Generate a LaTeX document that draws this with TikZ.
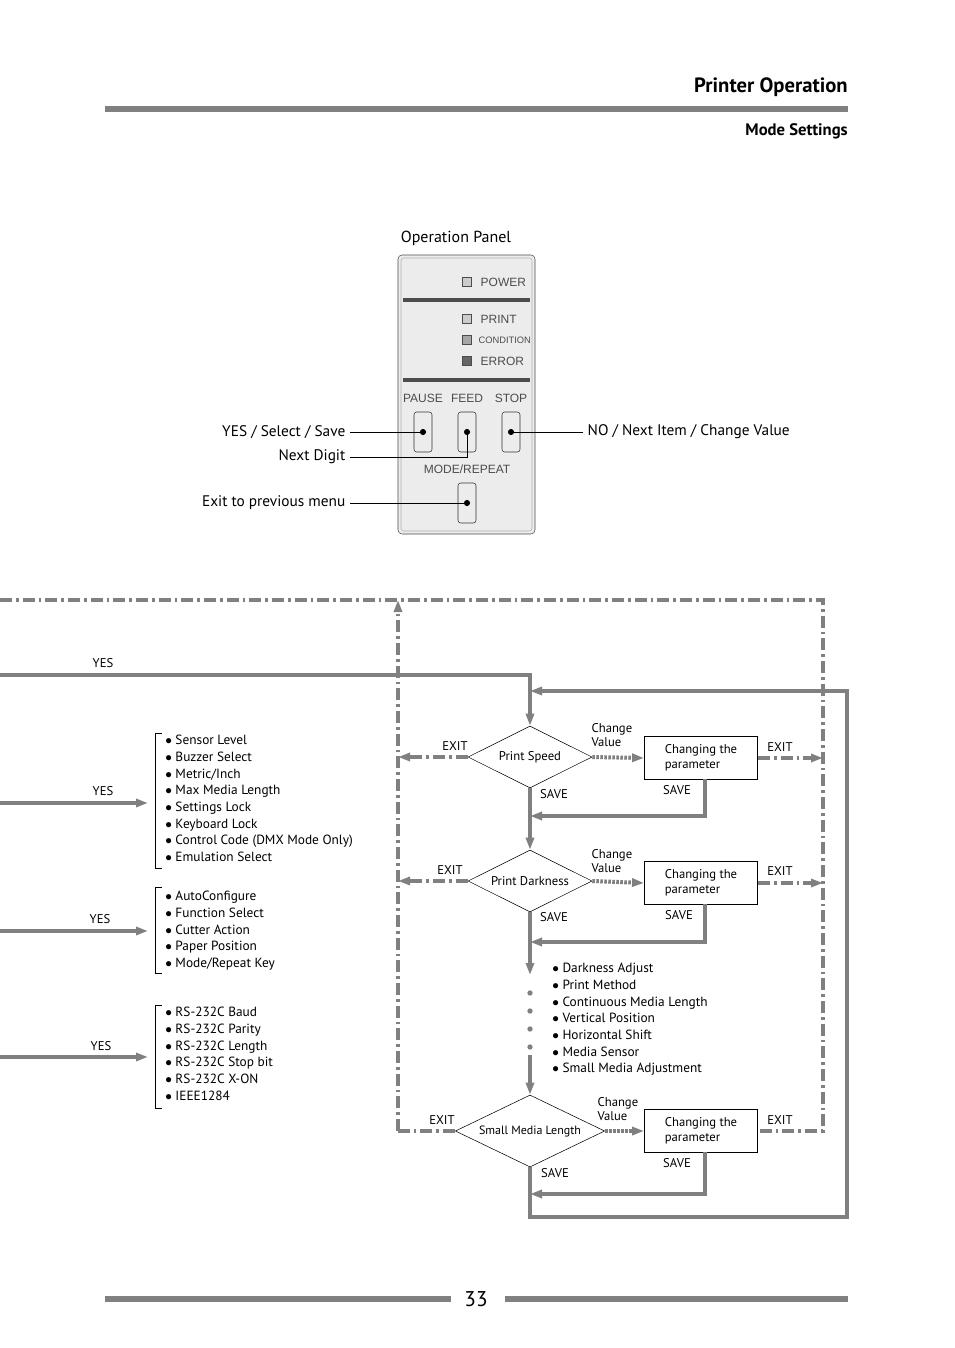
\documentclass[tikz,border=0pt]{standalone}
\usepackage{fontspec}
\setmainfont{PT Sans}
\newfontfamily\panelfont{Liberation Sans}
\usetikzlibrary{shapes.geometric,arrows.meta,positioning}
\definecolor{flowgray}{RGB}{128,128,128}
\definecolor{panelbg}{RGB}{236,236,236}
\tikzset{
  flow/.style={draw=flowgray,line width=3pt,-{Triangle[length=9pt,width=6pt]}},
  flowline/.style={draw=flowgray,line width=3pt},
  exitflow/.style={flow,dash pattern=on 9pt off 3pt on 2pt off 3pt},
  exitline/.style={flowline,dash pattern=on 9pt off 3pt on 2pt off 3pt},
  changeflow/.style={flow,dash pattern=on 2pt off 1pt},
  decision/.style={diamond,draw,thin,aspect=2,inner sep=0pt,font=\fontsize{9.5}{11}\selectfont},
  parambox/.style={draw,thin,minimum width=85pt,minimum height=32pt,align=left,font=\fontsize{9.5}{11}\selectfont},
  lbl/.style={font=\fontsize{9.5}{11}\selectfont,inner sep=1pt},
  listtext/.style={font=\fontsize{10}{12.5}\selectfont,align=left,anchor=north west,inner sep=0pt},
  led/.style={draw=black!70,fill=#1,minimum size=7pt,inner sep=0pt},
  btn/.style={draw=black!80,fill=panelbg,rounded corners=2pt,minimum width=13.5pt,minimum height=30pt},
  pnl/.style={font=\panelfont\fontsize{9}{10}\selectfont,text=black!70},
  leader/.style={draw,thin}
}
\begin{document}
\begin{tikzpicture}[x=0.75pt,y=-0.75pt]
\useasboundingbox (0,0) rectangle (954,1348);

% Header
\node[anchor=east,inner sep=0pt,font=\bfseries\fontsize{15.5}{18}\selectfont] (title) at (848,87) {Printer Operation};
\fill[flowgray] (105,106) rectangle (848,112);
\node[anchor=east,inner sep=0pt,font=\bfseries\fontsize{12.5}{14}\selectfont] (sub) at (848,131) {Mode Settings};

% Operation panel
\node[font=\fontsize{12}{14}\selectfont] (optitle) at (456,238) {Operation Panel};
\draw[black!70,fill=panelbg,rounded corners=3pt] (398,255) rectangle (535,534);
\draw[black!30,rounded corners=2pt] (401,258) rectangle (532,531);
\fill[black!70] (403,298) rectangle (530,302);
\fill[black!70] (403,378) rectangle (530,382);
\node[led=black!20] (ledpower) at (467,282) {};
\node[led=black!20] (ledprint) at (467,319) {};
\node[led=black!35] (ledcond) at (467,340) {};
\node[led=black!60] (lederr) at (467,361) {};
\node[pnl,anchor=west] at (476,282) {POWER};
\node[pnl,anchor=west] at (476,319) {PRINT};
\node[pnl,anchor=west,font=\panelfont\fontsize{7}{9}\selectfont,inner sep=1pt] at (477,340) {CONDITION};
\node[pnl,anchor=west] at (476,361) {ERROR};
\node[pnl] at (423,398) {PAUSE};
\node[pnl] at (467,398) {FEED};
\node[pnl] at (511,398) {STOP};
\node[pnl] at (467,469) {MODE/REPEAT};
\node[btn] (pause) at (423,432) {};
\node[btn] (feed) at (467,432) {};
\node[btn] (stop) at (511,432) {};
\node[btn] (mode) at (467,503) {};
\foreach \b in {pause,feed,stop,mode}
  \fill (\b.center) circle (2.3pt);

% Leaders
\node[anchor=east,font=\fontsize{11.5}{13}\selectfont] (yessel) at (350,432) {YES / Select / Save};
\node[anchor=east,font=\fontsize{11.5}{13}\selectfont] (nextdig) at (350,457) {Next Digit};
\node[anchor=east,font=\fontsize{11.5}{13}\selectfont] (exitprev) at (350,503) {Exit to previous menu};
\node[anchor=west,font=\fontsize{11.5}{13}\selectfont] (noitem) at (583,432) {NO / Next Item / Change Value};
\draw[leader] (yessel.east) -- (pause.center);
\draw[leader] (nextdig.east) -| (feed.center);
\draw[leader] (exitprev.east) -- (mode.center);
\draw[leader] (stop.center) -- (noitem.west);

% Flow nodes
\node[decision,minimum width=93pt,minimum height=46.5pt] (speed) at (530,757) {Print Speed};
\node[decision,minimum width=93pt,minimum height=46.5pt] (dark) at (530,881) {Print Darkness};
\node[decision,minimum width=112pt,minimum height=54pt,font=\fontsize{9}{11}\selectfont] (small) at (530,1131) {Small Media Length};
\node[parambox] (par1) at (701,758) {Changing the\\parameter};
\node[parambox] (par2) at (701,883) {Changing the\\parameter};
\node[parambox] (par3) at (701,1131) {Changing the\\parameter};

\coordinate (frameTL) at (0,600);
\coordinate (frameTR) at (823,600);
\coordinate (frameBR) at (823,1131);
\coordinate (frameUp) at (398,600);
\coordinate (frameBL) at (398,1131);
\coordinate (save1) at (705,779);
\coordinate (save2) at (705,904);
\coordinate (save3) at (705,1152);

% Exit frame
\draw[exitline] (frameTL) -- (frameTR) -- (frameBR) -- (par3.east);
\draw[exitflow] (frameBL) -- (frameUp);
\draw[exitline] (small.west) -- (frameBL);
\draw[exitflow] (speed.west) -- (398,757);
\draw[exitflow] (dark.west) -- (398,881);
\draw[exitflow] (par1.east) -- (823,758);
\draw[exitflow] (par2.east) -- (823,883);

% Main flow
\draw[flow] (0,675) -| (speed.north);
\draw[flow] (speed.south) -- (dark.north);
\draw[flow] (dark.south) -- (530,975);
\foreach \y in {993,1011,1029,1047}
  \fill[flowgray] (530,\y) circle (2pt);
\draw[flow] (530,1055) -- (small.north);
\draw[flow] (small.south) -- (530,1217) -- (847,1217) -- (847,691) -- (530,691);

% Change value / save
\draw[changeflow] (speed.east) -- (par1.west);
\draw[changeflow] (dark.east) -- (par2.west);
\draw[changeflow] (small.east) -- (par3.west);
\draw[flow] (save1) -- (705,816) -- (530,816);
\draw[flow] (save2) -- (705,942) -- (530,942);
\draw[flow] (save3) -- (705,1194) -- (530,1194);

% Flow labels
\node[lbl] at (455,746) {EXIT};
\node[lbl] at (450,870) {EXIT};
\node[lbl] at (442,1120) {EXIT};
\foreach \y in {747,871,1120}
  \node[lbl] at (780,\y) {EXIT};
\node[lbl] at (554,794) {SAVE};
\node[lbl] at (554,917) {SAVE};
\node[lbl] at (555,1173) {SAVE};
\node[lbl] at (677,790) {SAVE};
\node[lbl] at (679,915) {SAVE};
\node[lbl] at (677,1163) {SAVE};
\node[lbl,align=left,anchor=west,font=\fontsize{9.5}{10}\selectfont] at (590,735) {Change\\Value};
\node[lbl,align=left,anchor=west,font=\fontsize{9.5}{10}\selectfont] at (590,861) {Change\\Value};
\node[lbl,align=left,anchor=west,font=\fontsize{9.5}{10}\selectfont] at (596,1109) {Change\\Value};

% YES arrows and lists
\node[lbl] at (103,663) {YES};
\node[lbl] at (103,791) {YES};
\node[lbl] at (100,919) {YES};
\node[lbl] at (101,1046) {YES};
\draw[flow] (0,803) -- (148,803);
\draw[flow] (0,931) -- (148,931);
\draw[flow] (0,1057) -- (148,1057);
\draw[thin] (162,733) -- (155,733) -- (155,868) -- (162,868);
\draw[thin] (162,887) -- (155,887) -- (155,973) -- (162,973);
\draw[thin] (162,1005) -- (155,1005) -- (155,1108) -- (162,1108);
\node[listtext] (list1) at (165,735) {$\bullet$ Sensor Level\\$\bullet$ Buzzer Select\\$\bullet$ Metric/Inch\\$\bullet$ Max Media Length\\$\bullet$ Settings Lock\\$\bullet$ Keyboard Lock\\$\bullet$ Control Code (DMX Mode Only)\\$\bullet$ Emulation Select};
\node[listtext] (list2) at (165,891) {$\bullet$ AutoConfigure\\$\bullet$ Function Select\\$\bullet$ Cutter Action\\$\bullet$ Paper Position\\$\bullet$ Mode/Repeat Key};
\node[listtext] (list3) at (165,1007) {$\bullet$ RS-232C Baud\\$\bullet$ RS-232C Parity\\$\bullet$ RS-232C Length\\$\bullet$ RS-232C Stop bit\\$\bullet$ RS-232C X-ON\\$\bullet$ IEEE1284};
\node[listtext] (list4) at (552,963) {$\bullet$ Darkness Adjust\\$\bullet$ Print Method\\$\bullet$ Continuous Media Length\\$\bullet$ Vertical Position\\$\bullet$ Horizontal Shift\\$\bullet$ Media Sensor\\$\bullet$ Small Media Adjustment};

% Footer
\fill[flowgray] (105,1296) rectangle (451,1302);
\fill[flowgray] (505,1296) rectangle (848,1302);
\node[font=\fontsize{16}{18}\selectfont] (page) at (476,1299) {33};
\end{tikzpicture}
\end{document}
